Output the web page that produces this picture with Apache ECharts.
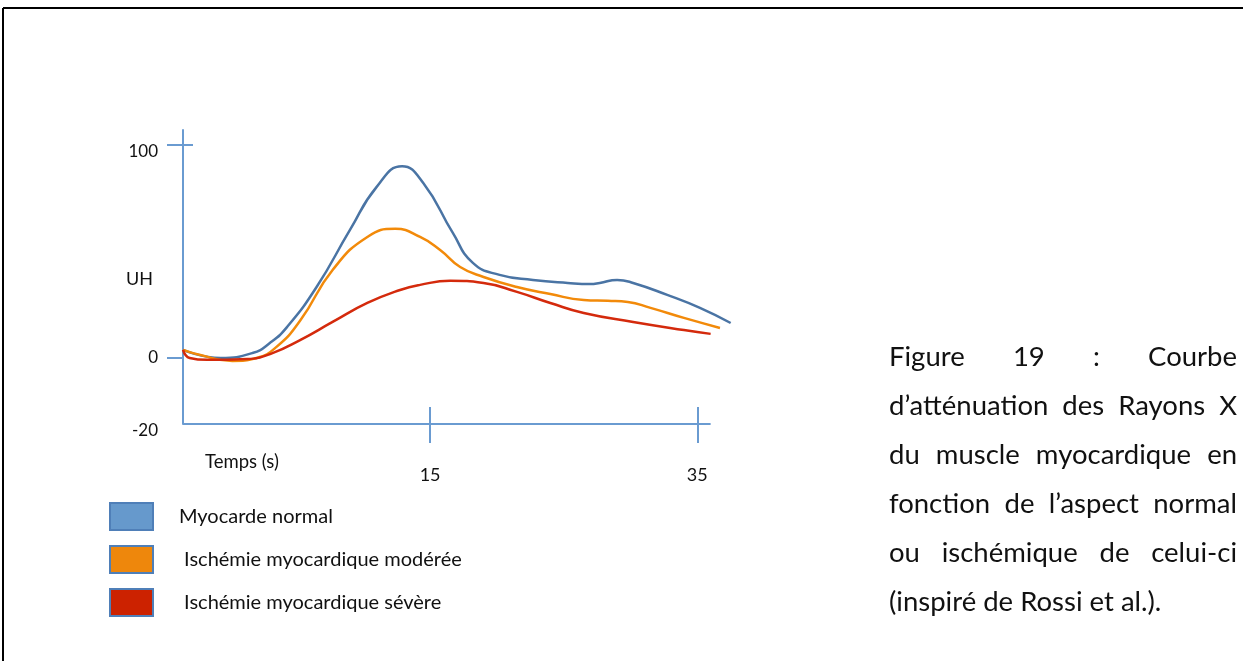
<!DOCTYPE html>
<html>
<head>
<meta charset="utf-8">
<script src="https://cdn.jsdelivr.net/npm/echarts@6/dist/echarts.min.js"></script>
<style>
  html,body{margin:0;padding:0;background:#fff;}
  #chart{position:absolute;left:0;top:0;width:1243px;height:661px;}
  #caption{position:absolute;left:889px;top:331px;width:348px;font-family:Lato,"Open Sans",sans-serif;font-size:27.5px;line-height:49px;color:#111;}
  #caption div{text-align:justify;text-align-last:justify;white-space:nowrap;}
  #caption div.last{text-align:left;text-align-last:left;}
</style>
</head>
<body>
<div id="chart"></div>
<div id="caption">
  <div>Figure 19 : Courbe</div>
  <div>d’atténuation des Rayons X</div>
  <div>du muscle myocardique en</div>
  <div>fonction de l’aspect normal</div>
  <div>ou ischémique de celui-ci</div>
  <div class="last">(inspiré de Rossi et al.).</div>
</div>
<script>
// ---- data (time in s, attenuation in UH) ----
const seriesNames = ['Myocarde normal', 'Ischémie myocardique modérée', 'Ischémie myocardique sévère'];
const normalData = [[-3.5,3.8],[-0.7,0],[1.7,2.3],[3.0,7.0],[4.3,14.6],[6.5,33.3],[9.0,60.1],[11.0,80.3],[12.9,90.0],[14.5,82.0],[16.7,58.7],[18.2,44.6],[20.2,39.0],[22.7,36.6],[25.3,35.2],[27.0,34.7],[27.7,35.2],[29.0,36.6],[30.2,35.2],[32.75,29.6],[35.2,23.5],[37.5,16.4]];
const moderateData = [[-3.5,3.8],[-2.2,1.4],[0.2,-1.4],[2.0,0],[3.5,5.2],[5.3,17.8],[7.7,41.3],[10.3,56.8],[12.4,60.6],[14.25,56.8],[15.75,50.7],[17.25,42.7],[19.0,38.0],[21.5,33.3],[24.0,30.0],[26.5,27.2],[28.3,26.8],[29.8,26.3],[31.5,23.5],[34.0,18.8],[36.7,14.1]];
const severeData = [[-3.5,3.8],[-3.0,0],[-1.7,-0.9],[1.3,-0.5],[3.2,2.3],[5.3,8.5],[7.7,16.9],[10.3,25.8],[12.75,31.9],[14.25,34.3],[16.5,36.2],[19.0,35.2],[21.5,31.0],[24.0,25.8],[26.5,21.1],[30.2,16.9],[34.0,13.1],[36.0,11.3]];
const xTickValues = [15, 35];
const yTickValues = [0, 100];
const yLabelItems = [[100,'100'],[0,'0'],[-31,'-20']]; // position on the axis -> label as printed
const xRange = [-3.5, 37.6];   // plotting range (curves overshoot the drawn axis)
const xAxisEnd = 36;           // where the drawn time axis stops
const yRange = [-31, 107];
const lineColors = ['#4A74A4', '#F28A0A', '#D42A0C'];
const legendFill = ['#6699CC', '#EE870C', '#CC2200'];

const axisColor = '#6A9BD1';
const chart = echarts.init(document.getElementById('chart'));
const labelMap = {};
yLabelItems.forEach(d => labelMap[d[0]] = d[1]);

const font = 'Lato';
const option = {
  animation: false,
  grid: {left: 183, right: 511, top: 130, bottom: 237, containLabel: false},
  xAxis: [
    {type: 'value', min: xRange[0], max: xRange[1], position: 'bottom',
     axisLine: {show: false, onZero: false},
     axisTick: {show: true, inside: false, length: 19, customValues: xTickValues, lineStyle: {color: axisColor, width: 2}},
     axisLabel: {show: true, customValues: xTickValues, margin: 42, fontSize: 18, fontFamily: font, color: '#111'},
     splitLine: {show: false}},
    {type: 'value', min: xRange[0], max: xRange[1], position: 'bottom',
     axisLine: {show: false, onZero: false},
     axisTick: {show: true, inside: true, length: 17, customValues: xTickValues, lineStyle: {color: axisColor, width: 2}},
     axisLabel: {show: false}, splitLine: {show: false}}
  ],
  yAxis: [
    {type: 'value', min: yRange[0], max: yRange[1],
     axisLine: {show: true, onZero: false, lineStyle: {color: axisColor, width: 2}},
     axisTick: {show: true, inside: false, length: 16, customValues: yTickValues, lineStyle: {color: axisColor, width: 2}},
     axisLabel: {show: true, customValues: yLabelItems.map(d => d[0]), margin: 25, fontSize: 17, fontFamily: font, color: '#111',
                 formatter: v => (v === 0 ? '{m|' : '{d|') + labelMap[v] + '}',
                 rich: {d: {fontSize: 17, fontFamily: font, color: '#111', padding: [14, 0, 0, 0]},
                        m: {fontSize: 17, fontFamily: font, color: '#111'}}},
     splitLine: {show: false}},
    {type: 'value', min: yRange[0], max: yRange[1], position: 'left',
     axisLine: {show: false, onZero: false},
     axisTick: {show: true, inside: true, length: 10, customValues: [100], lineStyle: {color: axisColor, width: 2}},
     axisLabel: {show: false}, splitLine: {show: false}}
  ],
  legend: {
    orient: 'vertical', left: 109, top: 502, padding: 0, itemWidth: 43, itemGap: 14, itemHeight: 27, icon: 'rect',
    textStyle: {fontSize: 20, fontFamily: font, color: '#111', padding: [0, 0, 0, 21]},
    formatter: n => n === seriesNames[0] ? n : ' ' + n,
    data: seriesNames.map((n, i) => ({name: n, icon: 'rect',
      itemStyle: {color: legendFill[i], borderColor: '#4F7FB8', borderWidth: 2}}))
  },
  graphic: [
    {type: 'line', shape: {x1: 3, y1: 8, x2: 1243, y2: 8}, style: {stroke: '#000', lineWidth: 2}},
    {type: 'line', shape: {x1: 3, y1: 8, x2: 3, y2: 661}, style: {stroke: '#000', lineWidth: 2}},
    {type: 'text', left: 126, top: 270, style: {text: 'UH', fontSize: 18, fontFamily: font, fill: '#111'}},
    {type: 'text', left: 205, top: 453, style: {text: 'Temps (s)', fontSize: 18.5, fontFamily: font, fill: '#111'}}
  ],
  series: [normalData, moderateData, severeData].map((d, i) => {
    const s = {
      name: seriesNames[i], type: 'line', data: d, smooth: 0.5, showSymbol: false, clip: false,
      lineStyle: {color: lineColors[i], width: 2.5}, itemStyle: {color: lineColors[i]}
    };
    if (i === 0) {
      // drawn time axis line, from the origin to the end of the axis
      s.markLine = {silent: true, symbol: 'none', label: {show: false},
        lineStyle: {color: axisColor, width: 2, type: 'solid'},
        data: [[{coord: [xRange[0], yRange[0]]}, {coord: [xAxisEnd, yRange[0]]}]]};
    }
    return s;
  })
};
chart.setOption(option);

// keep each justified caption line within the column width
document.querySelectorAll('#caption div').forEach(el => {
  const w = el.scrollWidth, W = el.clientWidth;
  if (w > W) { el.style.transformOrigin = 'left center'; el.style.transform = 'scaleX(' + (W / w) + ')'; }
});
</script>
</body>
</html>
